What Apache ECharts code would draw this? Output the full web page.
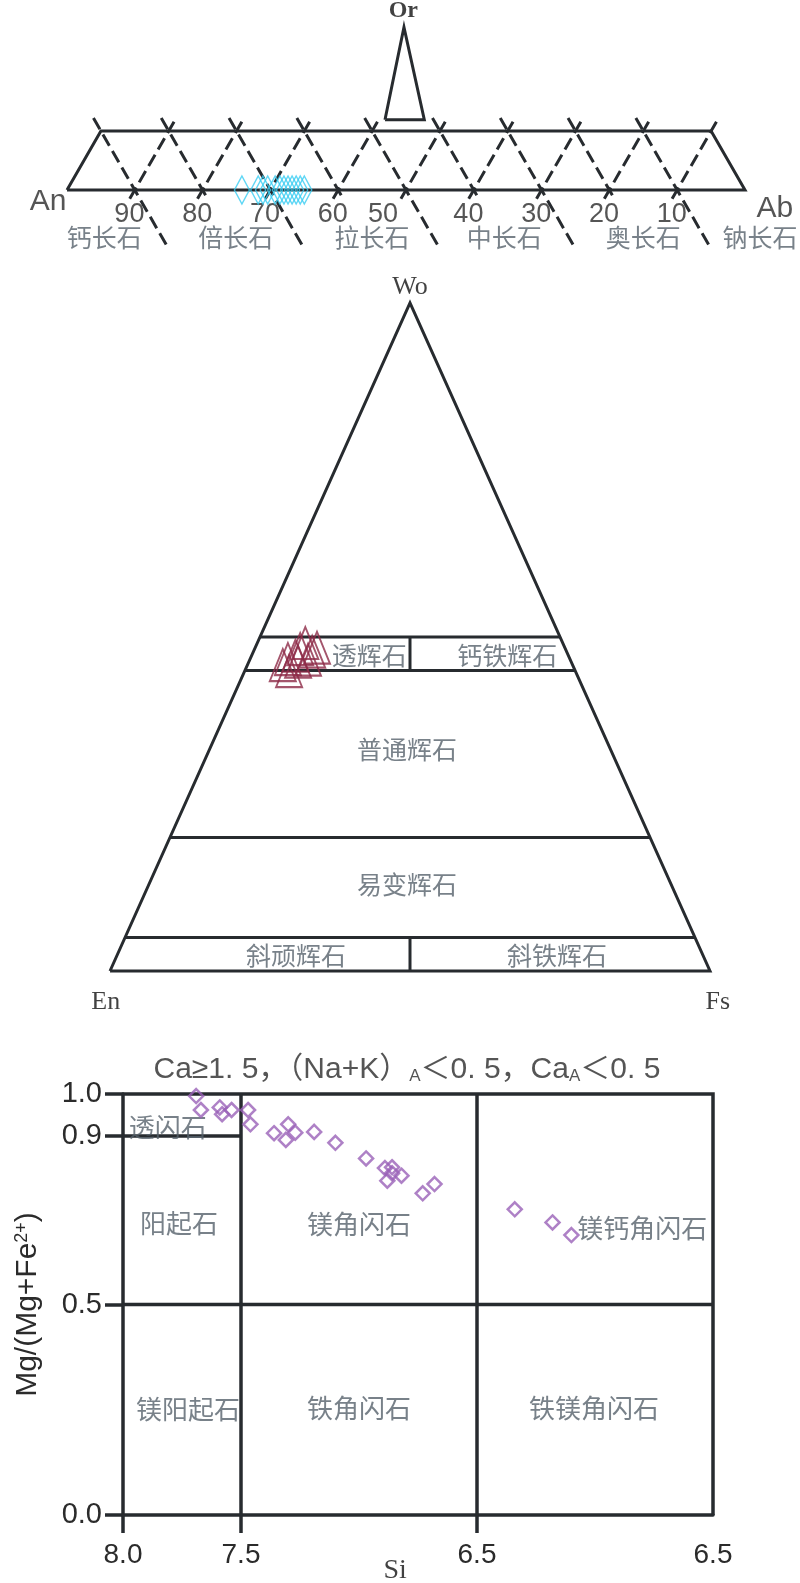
<!DOCTYPE html>
<html>
<head>
<meta charset="utf-8">
<script src="https://cdn.jsdelivr.net/npm/echarts@6/dist/echarts.min.js"></script>
<style>
html, body { margin: 0; padding: 0; background: #fff; }
#main { width: 800px; height: 1583px; }
</style>
</head>
<body>
<div id="main"></div>
<script>
// 斜长石 An-Ab-Or 图
var anTicks = [90, 80, 70, 60, 50, 40, 30, 20, 10];
var anTickLabels = ['90', '80', '70', '60', '50', '40', '30', '20', '10'];
var plagBounds = [90, 70, 50, 30, 10];
var plagNames = ['钙长石', '倍长石', '拉长石', '中长石', '奥长石', '钠长石'];
var plagAn = [74.2, 71.8, 71.1, 70.4, 69.3, 68.6, 68.0, 67.4, 66.8, 66.2, 65.6, 65.0];

// 辉石 Wo-En-Fs 图
var pxWo = [49.1, 48.4, 48.2, 47.2, 46.7, 44.9, 46.3, 46.6, 45.8, 47.8];
var pxEn = [42.9, 41.3, 44.2, 45.5, 47.0, 47.7, 45.5, 43.7, 48.3, 42.4];
var pxFs = [8.0, 10.3, 7.6, 7.3, 6.3, 7.4, 8.2, 9.7, 5.9, 9.8];
var pxLevels = [50, 45, 20, 5];
var pxNames = ['透辉石', '钙铁辉石', '普通辉石', '易变辉石', '斜顽辉石', '斜铁辉石'];

// 角闪石 Si - Mg/(Mg+Fe2+) 图
var amSi = [7.69, 7.67, 7.59, 7.58, 7.54, 7.47, 7.46, 7.36, 7.30, 7.27, 7.31, 7.19,
            7.10, 6.97, 6.89, 6.86, 6.86, 6.88, 6.82, 6.73, 6.68, 6.34, 6.18, 6.10];
var amMg = [0.995, 0.962, 0.968, 0.952, 0.962, 0.962, 0.928, 0.907, 0.928, 0.908, 0.891, 0.910,
            0.884, 0.847, 0.824, 0.826, 0.812, 0.794, 0.806, 0.764, 0.786, 0.726, 0.695, 0.665];
var siTicks = [8.0, 7.5, 6.5, 5.5];
var siTickLabels = ['8.0', '7.5', '6.5', '6.5'];
var mgTicks = [0.0, 0.5, 0.9, 1.0];
var amNames = ['透闪石', '阳起石', '镁角闪石', '镁钙角闪石', '镁阳起石', '铁角闪石', '铁镁角闪石'];

var INK = '#272b2f';
var GREY = '#56616c';
var CJK = '"Noto Sans CJK SC", sans-serif';
var SANS = '"Liberation Sans", "Noto Sans CJK SC", sans-serif';
var SERIF = '"Liberation Serif", "DejaVu Serif", serif';

function tern(wo, en, fs) {
    var s = wo + en + fs;
    return [(fs + wo / 2) / s * 100, wo / s * 100];
}

function linesSeries(gi, segs, style, z) {
    return {
        type: 'lines', coordinateSystem: 'cartesian2d', xAxisIndex: gi, yAxisIndex: gi,
        polyline: true, silent: true, clip: false, z: z || 2,
        lineStyle: style,
        data: segs.map(function (s) { return { coords: s }; })
    };
}

function textSeries(gi, items, st) {
    return {
        type: 'scatter', xAxisIndex: gi, yAxisIndex: gi, symbolSize: 1, silent: true, clip: false, z: 6,
        itemStyle: { color: 'transparent' },
        data: items.map(function (t) { return { value: t[0], name: t[1] }; }),
        label: {
            show: true, position: 'inside', formatter: '{b}',
            fontSize: st.size, fontFamily: st.font, color: st.color,
            fontWeight: st.weight || 'normal', rich: st.rich || {}
        }
    };
}

// ---- 斜长石几何 ----
var plagFrame = [[[100, 0], [95, 1], [5, 1], [0, 0], [100, 0]]];
var orTri = [[[53.1, 1.19], [50.3, 2.76], [47.3, 1.19], [53.1, 1.19]]];
var plagDash = [];
anTicks.forEach(function (v) {
    var down = plagBounds.indexOf(v) >= 0 ? -0.93 : -0.15;
    plagDash.push([[v + 5 * 1.22, 1.22], [v + 5 * down, down]]);   // "\"
    plagDash.push([[v + 0.75, -0.15], [v - 5 * 1.22, 1.22]]);      // "/"
});
var plagNameAt = [94.5, 75.1, 55.0, 35.5, 15.0, -2.2];

// ---- 辉石几何 ----
var pxFrame = [[tern(0, 100, 0), tern(0, 0, 100), tern(100, 0, 0), tern(0, 100, 0)]];
var pxInner = pxLevels.map(function (w) { return [tern(w, 100 - w, 0), tern(w, 0, 100 - w)]; });
pxInner.push([tern(45, 27.5, 27.5), tern(50, 25, 25)]);
pxInner.push([tern(0, 50, 50), tern(5, 47.5, 47.5)]);
var pxNameAt = [[43.2, 47.3], [66.2, 47.3], [49.5, 33.2], [49.5, 13.0], [31.0, 2.25], [74.5, 2.25]];

// ---- 角闪石几何 ----
var amFields = [
    [[8.0, 1.0], [5.5, 1.0], [5.5, 0.0]],
    [[7.5, 0.0], [7.5, 1.0]],
    [[6.5, 0.0], [6.5, 1.0]],
    [[8.0, 0.5], [5.5, 0.5]],
    [[8.0, 0.9], [7.5, 0.9]]
];
var amNameAt = [[7.81, 0.922], [7.763, 0.694], [7.0, 0.691], [5.80, 0.682], [7.725, 0.252], [7.0, 0.254], [6.004, 0.254]];

var option = {
    animation: false,
    grid: [
        { left: 67, top: 1.2, width: 678, height: 247.8 },
        { left: 110, top: 303, width: 600, height: 668 },
        { left: 123, top: 1094, width: 590, height: 421 }
    ],
    xAxis: [
        { gridIndex: 0, type: 'value', min: 0, max: 100, inverse: true, show: false },
        { gridIndex: 1, type: 'value', min: 0, max: 100, show: false },
        {
            gridIndex: 2, type: 'value', min: 5.5, max: 8.0, inverse: true,
            axisLine: { show: true, onZero: false, lineStyle: { color: INK, width: 3.5 } },
            axisTick: { show: true, customValues: [8.0, 7.5, 6.5], length: 18, lineStyle: { color: INK, width: 3.5 } },
            axisLabel: {
                customValues: siTicks, margin: 26, fontSize: 28, fontFamily: SANS, color: '#2b2b2b',
                formatter: function (v) { var i = siTicks.indexOf(v); return i >= 0 ? siTickLabels[i] : ''; }
            },
            splitLine: { show: false }
        }
    ],
    yAxis: [
        { gridIndex: 0, type: 'value', min: -1, max: 3.2, show: false },
        { gridIndex: 1, type: 'value', min: 0, max: 100, show: false },
        {
            gridIndex: 2, type: 'value', min: 0, max: 1,
            axisLine: { show: true, onZero: false, lineStyle: { color: INK, width: 3.5 } },
            axisTick: { show: true, customValues: mgTicks, length: 18, lineStyle: { color: INK, width: 3.5 } },
            axisLabel: {
                customValues: mgTicks, margin: 21, fontSize: 29, fontFamily: SANS, color: '#2b2b2b',
                formatter: function (v) { return v.toFixed(1); }
            },
            splitLine: { show: false },
            name: 'Mg/(Mg+Fe{s|2+})', nameLocation: 'middle', nameRotate: 90, nameGap: 80,
            nameTextStyle: {
                fontSize: 30, fontFamily: SANS, color: '#2b2b2b',
                rich: { s: { fontSize: 18, fontFamily: SANS, color: '#2b2b2b', verticalAlign: 'top', lineHeight: 30 } }
            }
        }
    ],
    series: [
        // 斜长石
        linesSeries(0, plagFrame, { color: INK, width: 3, opacity: 1 }),
        linesSeries(0, orTri, { color: INK, width: 3, opacity: 1 }),
        linesSeries(0, plagDash, { color: INK, width: 3, opacity: 1, type: [13, 6] }),
        {
            type: 'scatter', xAxisIndex: 0, yAxisIndex: 0, symbol: 'diamond', symbolSize: [15, 28], z: 8,
            itemStyle: { color: 'rgba(0,0,0,0)', borderColor: '#38cdf3', borderWidth: 1.5 },
            data: plagAn.map(function (a) { return [a, 0]; })
        },
        textSeries(0, anTicks.map(function (v, i) { return [[v + (v === 50 ? 3.4 : 0.8), -0.42], anTickLabels[i]]; }),
            { size: 27, font: SANS, color: '#2b2b2b' }),
        textSeries(0, plagNames.map(function (n, i) { return [[plagNameAt[i], -0.8], n]; }),
            { size: 25, font: CJK, color: GREY }),
        textSeries(0, [[[102.8, -0.2], 'An'], [[-4.4, -0.31], 'Ab']], { size: 30, font: SANS, color: '#2b2b2b' }),
        textSeries(0, [[[50.4, 3.03], 'Or']], { size: 24, font: SERIF, color: '#111', weight: 'bold' }),

        // 辉石
        linesSeries(1, pxFrame, { color: INK, width: 3, opacity: 1 }),
        linesSeries(1, pxInner, { color: INK, width: 3, opacity: 1 }),
        {
            type: 'scatter', xAxisIndex: 1, yAxisIndex: 1, symbol: 'triangle', symbolSize: [26, 32], z: 8,
            itemStyle: { color: 'rgba(0,0,0,0)', borderColor: '#8d2a47', borderWidth: 2 },
            data: pxWo.map(function (w, i) { return tern(w, pxEn[i], pxFs[i]); })
        },
        textSeries(1, pxNames.map(function (n, i) { return [pxNameAt[i], n]; }),
            { size: 25, font: CJK, color: GREY }),
        textSeries(1, [[[50, 102.4], 'Wo'], [[-0.7, -4.6], 'En'], [[101.3, -4.6], 'Fs']],
            { size: 26, font: SERIF, color: '#111' }),

        // 角闪石
        linesSeries(2, amFields, { color: INK, width: 3.5, opacity: 1 }),
        {
            type: 'scatter', xAxisIndex: 2, yAxisIndex: 2, symbol: 'diamond', symbolSize: 14, z: 8, clip: false,
            itemStyle: { color: 'rgba(0,0,0,0)', borderColor: '#9a62b8', borderWidth: 2.5 },
            data: amSi.map(function (s, i) { return [s, amMg[i]]; })
        },
        textSeries(2, amNames.map(function (n, i) { return [amNameAt[i], n]; }),
            { size: 26, font: CJK, color: GREY }),
        textSeries(2, [[[6.797, 1.057], 'Ca≥1. 5，（Na+K）{s|A}＜0. 5，Ca{s|A}＜0. 5']],
            { size: 30, font: SANS, color: '#2b2b2b',
              rich: { s: { fontSize: 17, fontFamily: SANS, color: '#2b2b2b', verticalAlign: 'bottom', lineHeight: 30 } } }),
        textSeries(2, [[[6.847, -0.131], 'Si']], { size: 28, font: SERIF, color: '#111' })
    ]
};

var myChart = echarts.init(document.getElementById('main'));
myChart.setOption(option);
</script>
</body>
</html>
